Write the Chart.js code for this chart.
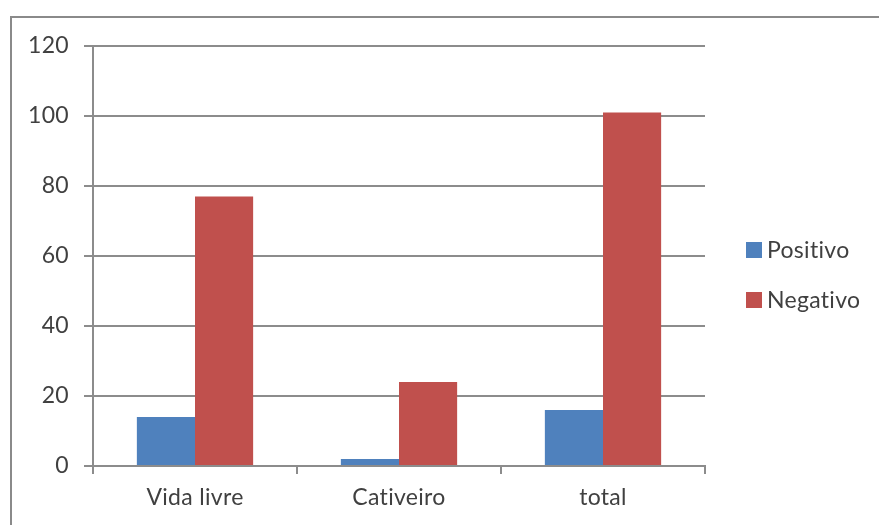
<!DOCTYPE html>
<html>
<head>
<meta charset="utf-8">
<script src="https://cdn.jsdelivr.net/npm/chart.js@4"></script>
<style>
    html, body { margin: 0; padding: 0; background: #fff; }
    #wrap { position: relative; width: 879px; height: 525px; }
</style>
</head>
<body>
<div id="wrap"><canvas id="chart" width="879" height="525"></canvas></div>
<script>
const categories = ['Vida livre', 'Cativeiro', 'total'];
const positivo = [14, 2, 16];
const negativo = [77, 24, 101];
const yTicks = [0, 20, 40, 60, 80, 100, 120];

const textColor = '#404040';
const gridColor = '#8c8c8c';
const fontFamily = 'Lato, "Open Sans", sans-serif';
const fontSize = 23;

// frame around the chart plus a legend drawn from the datasets
const framePlugin = {
    id: 'frame',
    beforeDraw(chart) {
        const ctx = chart.ctx;
        // no "ti" ligatures, like the original font
        ctx.textRendering = 'optimizeSpeed';
        ctx.letterSpacing = '0.3px';
        ctx.save();
        ctx.strokeStyle = '#8a8a8a';
        ctx.lineWidth = 2;
        ctx.beginPath();
        ctx.moveTo(11, 525);
        ctx.lineTo(11, 17);
        ctx.lineTo(879, 17);
        ctx.stroke();
        ctx.restore();
    },
    afterDraw(chart) {
        const ctx = chart.ctx;
        ctx.save();
        ctx.font = fontSize + 'px ' + fontFamily;
        ctx.textBaseline = 'middle';
        chart.data.datasets.forEach((ds, i) => {
            const y = 250 + i * 50;
            ctx.fillStyle = ds.backgroundColor;
            ctx.fillRect(746, y - 8, 16, 16);
            ctx.fillStyle = textColor;
            ctx.fillText(ds.label, 767, y + 1);
        });
        ctx.restore();
    }
};

new Chart(document.getElementById('chart'), {
    type: 'bar',
    data: {
        labels: categories,
        datasets: [
            { label: 'Positivo', data: positivo, backgroundColor: '#4f81bd' },
            { label: 'Negativo', data: negativo, backgroundColor: '#c0504d' }
        ]
    },
    options: {
        responsive: false,
        animation: false,
        layout: { padding: { top: 46, right: 174, bottom: 0, left: 0 } },
        datasets: {
            bar: { categoryPercentage: 0.57, barPercentage: 1.0 }
        },
        scales: {
            x: {
                grid: {
                    offset: true,
                    drawOnChartArea: false,
                    drawTicks: true,
                    tickLength: 8,
                    color: gridColor,
                    lineWidth: 2
                },
                border: { color: gridColor, width: 2 },
                ticks: {
                    color: textColor,
                    font: { family: fontFamily, size: fontSize },
                    padding: 10
                },
                afterFit(scale) { scale.height = 59; }
            },
            y: {
                min: 0,
                max: 120,
                afterBuildTicks(scale) { scale.ticks = yTicks.map(v => ({ value: v })); },
                grid: {
                    color: gridColor,
                    lineWidth: 2,
                    drawTicks: true,
                    tickLength: 9
                },
                border: { color: gridColor, width: 2 },
                ticks: {
                    color: textColor,
                    font: { family: fontFamily, size: fontSize },
                    padding: 15
                },
                afterFit(scale) { scale.width = 93; }
            }
        },
        plugins: {
            legend: { display: false },
            tooltip: { enabled: false }
        }
    },
    plugins: [framePlugin]
});
</script>
</body>
</html>
